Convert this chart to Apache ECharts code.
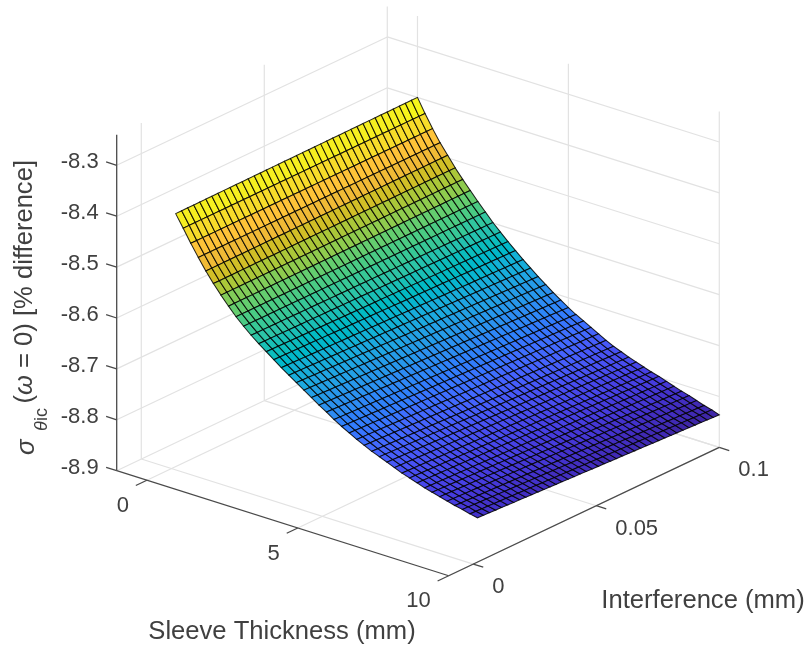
<!DOCTYPE html>
<html><head><meta charset="utf-8">
<style>html,body{margin:0;padding:0;background:#fff}#c{width:808px;height:650px;filter:blur(0.4px)}</style>
<script src="https://cdn.jsdelivr.net/npm/echarts@6/dist/echarts.min.js"></script>
</head><body><div id="c"></div>
<script>
const sleeveThickness = [0,0.25,0.5,0.75,1,1.25,1.5,1.75,2,2.25,2.5,2.75,3,3.25,3.5,3.75,4,4.25,4.5,4.75,5,5.25,5.5,5.75,6,6.25,6.5,6.75,7,7.25,7.5,7.75,8,8.25,8.5,8.75,9,9.25,9.5,9.75,10];
// surface height along its two visible edges, one value per thickness row
const edgeLowInterference = [-8.403,-8.427,-8.452,-8.475,-8.497,-8.517,-8.535,-8.552,-8.568,-8.582,-8.595,-8.607,-8.618,-8.629,-8.640,-8.650,-8.660,-8.670,-8.680,-8.690,-8.699,-8.709,-8.718,-8.726,-8.734,-8.741,-8.748,-8.754,-8.760,-8.766,-8.772,-8.777,-8.782,-8.787,-8.791,-8.795,-8.799,-8.803,-8.806,-8.810,-8.813];
const edgeHighInterference = [-8.400,-8.427,-8.452,-8.475,-8.495,-8.515,-8.533,-8.550,-8.567,-8.583,-8.599,-8.613,-8.627,-8.640,-8.653,-8.665,-8.677,-8.688,-8.699,-8.709,-8.719,-8.728,-8.736,-8.744,-8.752,-8.760,-8.767,-8.773,-8.779,-8.784,-8.789,-8.794,-8.798,-8.803,-8.808,-8.813,-8.817,-8.822,-8.827,-8.831,-8.836];
const interferenceRange = [0.0017, 0.1];
const meshColumns = 40; // rows of the surface are straight in the picture; this is the mesh drawn across them
const thicknessTicks = [0, 5, 10];
const interferenceTicks = [0, 0.05, 0.1];
const interferenceTickLabels = ['0', '0.05', '0.1'];
const heightTicks = [-8.9,-8.8,-8.7,-8.6,-8.5,-8.4,-8.3];
const thicknessLimits = [-1, 10];
const interferenceLimits = [-0.01, 0.1];
const heightLimits = [-8.9, -8.24];
const colourLimits = [-8.836, -8.400];
const xName = 'Sleeve Thickness (mm)';
const yName = 'Interference (mm)';
const parula = [[0.2422,0.1504,0.6603],[0.2504,0.1650,0.7076],[0.2578,0.1818,0.7511],[0.2647,0.1978,0.7952],[0.2706,0.2147,0.8364],[0.2751,0.2342,0.8710],[0.2783,0.2559,0.8991],[0.2803,0.2782,0.9221],[0.2813,0.3006,0.9414],[0.2810,0.3228,0.9579],[0.2795,0.3447,0.9717],[0.2760,0.3667,0.9829],[0.2699,0.3892,0.9906],[0.2602,0.4123,0.9952],[0.2440,0.4358,0.9988],[0.2206,0.4603,0.9973],[0.1963,0.4847,0.9892],[0.1834,0.5074,0.9798],[0.1786,0.5289,0.9682],[0.1764,0.5499,0.9520],[0.1687,0.5703,0.9359],[0.1540,0.5902,0.9218],[0.1460,0.6091,0.9079],[0.1380,0.6276,0.8973],[0.1248,0.6459,0.8883],[0.1113,0.6635,0.8763],[0.0952,0.6798,0.8598],[0.0689,0.6948,0.8394],[0.0297,0.7082,0.8163],[0.0036,0.7203,0.7917],[0.0067,0.7312,0.7660],[0.0433,0.7411,0.7394],[0.0964,0.7500,0.7120],[0.1408,0.7584,0.6842],[0.1717,0.7670,0.6554],[0.1938,0.7758,0.6251],[0.2161,0.7843,0.5923],[0.2470,0.7918,0.5567],[0.2906,0.7973,0.5188],[0.3406,0.8008,0.4789],[0.3909,0.8029,0.4354],[0.4456,0.8024,0.3909],[0.5044,0.7993,0.3480],[0.5616,0.7942,0.3045],[0.6174,0.7876,0.2612],[0.6720,0.7793,0.2227],[0.7242,0.7698,0.1910],[0.7738,0.7598,0.1646],[0.8203,0.7498,0.1535],[0.8634,0.7406,0.1596],[0.9035,0.7330,0.1774],[0.9393,0.7288,0.2100],[0.9728,0.7298,0.2394],[0.9956,0.7434,0.2371],[0.9970,0.7659,0.2199],[0.9952,0.7893,0.2028],[0.9892,0.8136,0.1885],[0.9786,0.8386,0.1766],[0.9676,0.8639,0.1643],[0.9610,0.8890,0.1537],[0.9597,0.9135,0.1423],[0.9628,0.9373,0.1265],[0.9691,0.9606,0.1064],[0.9769,0.9839,0.0805]];

// Orthographic view of the 3D box onto the page plane
const view = {x0:116.7, y0:470.7, tx:30.18, ty:9.55, ix:2460, iy:1167, zy:509};
function project(t, i, z) {
  const dt = t - thicknessLimits[0], di = i - interferenceLimits[0], dz = z - heightLimits[0];
  return [view.x0 + dt*view.tx + di*view.ix, view.y0 + dt*view.ty - di*view.iy - dz*view.zy];
}
function colourOf(z) {
  const f = Math.max(0, Math.min(1, (z-colourLimits[0])/(colourLimits[1]-colourLimits[0])));
  const c = parula[Math.min(63, Math.floor(f*64))];
  return 'rgb(' + c.map(v => Math.round(v*255)).join(',') + ')';
}
function surfaceAt(r, c) {
  const f = c / meshColumns;
  return [sleeveThickness[r],
          interferenceRange[0] + f*(interferenceRange[1]-interferenceRange[0]),
          edgeLowInterference[r] + f*(edgeHighInterference[r]-edgeLowInterference[r])];
}

// Segments: [t1,i1,z1,t2,i2,z2]
const [t0,t1] = thicknessLimits, [i0,i1] = interferenceLimits, [z0,z1] = heightLimits;
const gridSegments = [];
heightTicks.forEach(z => { gridSegments.push([t0,i0,z,t0,i1,z]); gridSegments.push([t0,i1,z,t1,i1,z]); });
interferenceTicks.forEach(i => { gridSegments.push([t0,i,z0,t0,i,z1]); gridSegments.push([t0,i,z0,t1,i,z0]); });
thicknessTicks.forEach(t => { gridSegments.push([t,i1,z0,t,i1,z1]); gridSegments.push([t,i0,z0,t,i1,z0]); });
const axisSegments = [[t0,i0,z0,t0,i0,z1],[t0,i0,z0,t1,i0,z0],[t1,i0,z0,t1,i1,z0]];
heightTicks.forEach(z => axisSegments.push([t0,i0,z,t0-0.35,i0,z]));
thicknessTicks.forEach(t => axisSegments.push([t,i0,z0,t,i0-0.0045,z0]));
interferenceTicks.forEach(i => axisSegments.push([t1,i,z0,t1+0.33,i,z0]));

const cells = [];
for (let r = 0; r < sleeveThickness.length-1; r++) for (let c = 0; c < meshColumns; c++) cells.push([r,c]);

const font = '"Liberation Sans", Arial, Helvetica, sans-serif';
const inkText = '#404040';
function text(x,y,str,size,align,extra) {
  return Object.assign({type:'text', x, y, silent:true, style:{text:str, fontSize:size, fontFamily:font, fill:inkText, align:align||'center', verticalAlign:'middle'}}, extra||{});
}
const labels = [];
heightTicks.forEach(z => { const p = project(t0,i0,z); labels.push(text(p[0]-18,p[1]-3,z.toFixed(1),22,'right')); });
thicknessTicks.forEach(t => { const p = project(t,i0,z0); labels.push(text(p[0]-18,p[1]+25.5,String(t),22,'right')); });
interferenceTicks.forEach((v,k) => { const p = project(t1,v,z0); labels.push(text(p[0]+19,p[1]+23,interferenceTickLabels[k],22,'left')); });
labels.push(text(282,631.5,xName,25.6,'center'));
labels.push(text(703,600.5,yName,25.6,'center'));
const vertical = {rotation:Math.PI/2};
function rotated(x,y,str,size,style){ const e = text(x,y,str,size,'left',vertical); e.style.fontStyle = style||'normal'; return e; }
labels.push(rotated(27,455,'σ',25.6,'italic'));
labels.push(rotated(42,431,'θ',18,'italic'));
labels.push(rotated(42,421,'ic',18));
const titleRest = rotated(25,403.5,'',25.6);
titleRest.style.rich = {w:{fontStyle:'italic',fontSize:25.6,fontFamily:font,fill:inkText}};
titleRest.style.text = '({w|ω} = 0) [% difference]';
labels.push(titleRest);

function segRender(color,width){
  return function(params, api){
    const a = api.coord(project(api.value(0),api.value(1),api.value(2)));
    const b = api.coord(project(api.value(3),api.value(4),api.value(5)));
    return {type:'line', silent:true, shape:{x1:a[0],y1:a[1],x2:b[0],y2:b[1]}, style:{stroke:color,lineWidth:width}};
  };
}

const chart = echarts.init(document.getElementById('c'), null, {renderer:'canvas'});
chart.setOption({
  animation:false, backgroundColor:'#fff',
  grid:{left:0,right:0,top:0,bottom:0},
  xAxis:{type:'value',min:0,max:808,show:false},
  yAxis:{type:'value',min:0,max:650,inverse:true,show:false},
  tooltip:{show:false},
  series:[
    {type:'custom',name:'grid',coordinateSystem:'cartesian2d',clip:false,silent:true,z:1,data:gridSegments,encode:{x:0,y:1},renderItem:segRender('#e2e2e2',1.2)},
    {type:'custom',name:'surface',coordinateSystem:'cartesian2d',clip:false,silent:true,z:2,progressive:0,data:cells,encode:{x:0,y:1},
     renderItem:function(params,api){
       const r=api.value(0), c=api.value(1);
       const q=[surfaceAt(r,c),surfaceAt(r+1,c),surfaceAt(r+1,c+1),surfaceAt(r,c+1)];
       const pts=q.map(v=>api.coord(project(v[0],v[1],v[2])));
       const zm=(q[0][2]+q[1][2]+q[2][2]+q[3][2])/4;
       return {type:'polygon',silent:true,shape:{points:pts},style:{fill:colourOf(zm),stroke:'rgba(0,0,0,0.85)',lineWidth:1.05}};
     }},
    {type:'custom',name:'axes',coordinateSystem:'cartesian2d',clip:false,silent:true,z:3,data:axisSegments,encode:{x:0,y:1},renderItem:segRender('#4a4a4a',1.3)},
    {type:'custom',name:'labels',coordinateSystem:'cartesian2d',clip:false,silent:true,z:4,data:labels.map((l,k)=>[k,k]),encode:{x:0,y:1},
     renderItem:function(params,api){ const l=labels[api.value(0)]; const p=api.coord([l.x,l.y]); return Object.assign({},l,{x:p[0],y:p[1]}); }}
  ]
});
</script></body></html>
